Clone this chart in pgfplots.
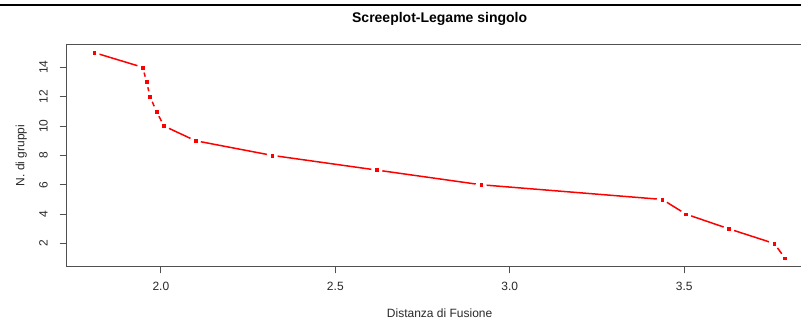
\documentclass[border=0pt]{standalone}
\usepackage{fontspec}
\setmainfont{Liberation Sans}
\usepackage{pgfplots}
\pgfplotsset{compat=1.18}
\definecolor{boxgray}{HTML}{505050}
\definecolor{txtgray}{HTML}{2A2A2A}
\begin{document}
\begin{tikzpicture}
\useasboundingbox (0pt,0pt) rectangle (801pt,-320pt);
\clip (0pt,0pt) rectangle (801pt,-320pt);
\fill[white] (0pt,0pt) rectangle (801pt,-320pt);
\draw[black, line width=2pt] (0pt,-5pt) -- (801pt,-5pt);
\begin{axis}[
  at={(66.7pt,-266.4pt)}, anchor=south west,
  scale only axis, width=745.9pt, height=222pt,
  xmin=1.730, xmax=3.868, ymin=0.44, ymax=15.56,
  axis line style={boxgray, line width=0.9pt},
  tick style={boxgray, line width=0.9pt},
  tick align=outside, major tick length=7pt,
  xtick pos=left, ytick pos=left,
  xtick={2.0,2.5,3.0,3.5}, ytick={2,4,6,8,10,12,14},
  /pgf/number format/assume math mode=true,
  xticklabel style={/pgf/number format/fixed, /pgf/number format/fixed zerofill, /pgf/number format/precision=1,
    anchor=base, yshift=-17pt, font=\fontsize{12}{14}\selectfont, text=txtgray},
  yticklabel style={rotate=90, anchor=base, yshift=12pt, font=\fontsize{12}{14}\selectfont, text=txtgray},
  title={Screeplot-Legame singolo},
  every axis title/.style={at={(axis description cs:0.5,1.0964)}, anchor=base, font=\fontsize{14}{16}\selectfont\bfseries, text=black},
  xlabel={Distanza di Fusione},
  every axis x label/.style={at={(axis description cs:0.5,-0.2324)}, anchor=base, font=\fontsize{12}{14}\selectfont, text=txtgray},
  ylabel={N. di gruppi},
  every axis y label/.style={at={(axis description cs:-0.0566,0.5)}, rotate=90, anchor=base, font=\fontsize{12}{14}\selectfont, text=txtgray},
  seg/.style={red, line width=1.5pt, no markers, shorten <=5.5pt, shorten >=5.5pt},
]
\addplot[seg] coordinates {(1.809,15) (1.948,14)};
\addplot[seg] coordinates {(1.948,14) (1.959,13)};
\addplot[seg] coordinates {(1.959,13) (1.969,12)};
\addplot[seg] coordinates {(1.969,12) (1.987,11)};
\addplot[seg] coordinates {(1.987,11) (2.009,10)};
\addplot[seg] coordinates {(2.009,10) (2.099,9)};
\addplot[seg] coordinates {(2.099,9) (2.319,8)};
\addplot[seg] coordinates {(2.319,8) (2.619,7)};
\addplot[seg] coordinates {(2.619,7) (2.918,6)};
\addplot[seg] coordinates {(2.918,6) (3.437,5)};
\addplot[seg] coordinates {(3.437,5) (3.505,4)};
\addplot[seg] coordinates {(3.505,4) (3.628,3)};
\addplot[seg] coordinates {(3.628,3) (3.758,2)};
\addplot[seg] coordinates {(3.758,2) (3.789,1)};
\addplot[only marks, mark=square*, mark size=1.4pt, mark options={draw=red, fill=red}] coordinates {
(1.809,15) (1.948,14) (1.959,13) (1.969,12) (1.987,11) (2.009,10) (2.099,9)
(2.319,8) (2.619,7) (2.918,6) (3.437,5) (3.505,4) (3.628,3) (3.758,2) (3.789,1)};
\end{axis}
\end{tikzpicture}
\end{document}
